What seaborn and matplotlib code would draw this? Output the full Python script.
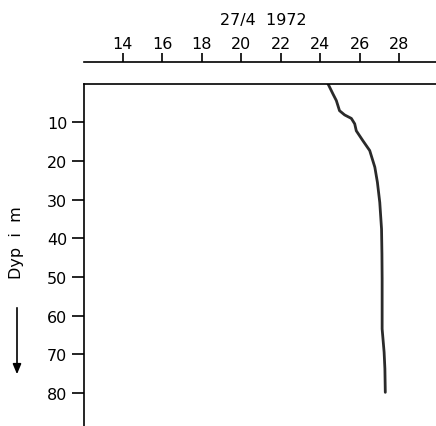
import numpy as np
import pandas as pd
import seaborn as sns
import matplotlib.pyplot as plt

# temperature profile, 27/4 1972
depth = [0, 2.7, 4.4, 7.0, 8.1, 9.0, 10.4, 12.2, 14.8, 17.3, 21.6, 25.5,
         30.7, 37.6, 44.0, 50.5, 57.0, 63.4, 69.4, 73.7, 79.8]
temp = [24.39, 24.65, 24.82, 24.98, 25.24, 25.58, 25.75, 25.83, 26.17, 26.51,
        26.77, 26.90, 27.02, 27.11, 27.13, 27.14, 27.14, 27.14, 27.24, 27.28, 27.30]
temp_ticks = [14, 16, 18, 20, 22, 24, 26, 28]
depth_ticks = [10, 20, 30, 40, 50, 60, 70, 80]

df = pd.DataFrame({"temp": temp, "depth": depth})

sns.set_style("white")
plt.rcParams['font.family'] = ['DejaVu Sans']
plt.rcParams['text.color'] = 'black'

W, H = 436, 427
fig = plt.figure(figsize=(W / 100, H / 100), dpi=100)

x0, x1 = 12.03, 29.87
ax = fig.add_axes([84 / W, 0, 1 - 84 / W, 1 - 84.6 / H])
sns.lineplot(data=df, x="temp", y="depth", sort=False, estimator=None,
             orient="y", color="#2a2a2a", lw=2, ax=ax)
ax.set_xlim(x0, x1)
ax.set_ylim(88.5, 0)
ax.set_xticks([])
ax.set_yticks(depth_ticks)
ax.set_xlabel("")
ax.set_ylabel("")
for s in ["right", "bottom"]:
    ax.spines[s].set_visible(False)
for s in ["left", "top"]:
    ax.spines[s].set_color("black")
    ax.spines[s].set_linewidth(1.2)
ax.tick_params(axis="y", direction="out", length=8.5, width=1.2, pad=3.5,
               labelsize=11.5, colors="black", left=True)

# separate temperature scale above the frame
ax2 = fig.add_axes([84 / W, 1 - 63.5 / H, 1 - 84 / W, 0.0001])
ax2.set_xlim(x0, x1)
ax2.set_yticks([])
for s in ["right", "bottom", "left"]:
    ax2.spines[s].set_visible(False)
ax2.spines["top"].set_color("black")
ax2.spines["top"].set_linewidth(1.2)
ax2.xaxis.tick_top()
ax2.set_xticks(temp_ticks)
ax2.tick_params(axis="x", direction="out", length=6.5, width=1.2, pad=2,
                labelsize=11.5, colors="black", top=True, bottom=False)

fig.text(263 / W, 1 - 20 / H, "27/4  1972", ha="center", va="center",
         fontsize=11.5, color="black")
fig.text(17 / W, 1 - 243 / H, "Dyp  i  m", rotation=90, ha="center",
         va="center", fontsize=11.5, color="black")
ax.annotate("", xy=(17 / W, 1 - 378 / H), xytext=(17 / W, 1 - 306 / H),
            xycoords="figure fraction", textcoords="figure fraction",
            arrowprops=dict(arrowstyle="-|>,head_length=0.6,head_width=0.25",
                            color="black", lw=1.2), annotation_clip=False)

plt.savefig("out.png", dpi=100)
